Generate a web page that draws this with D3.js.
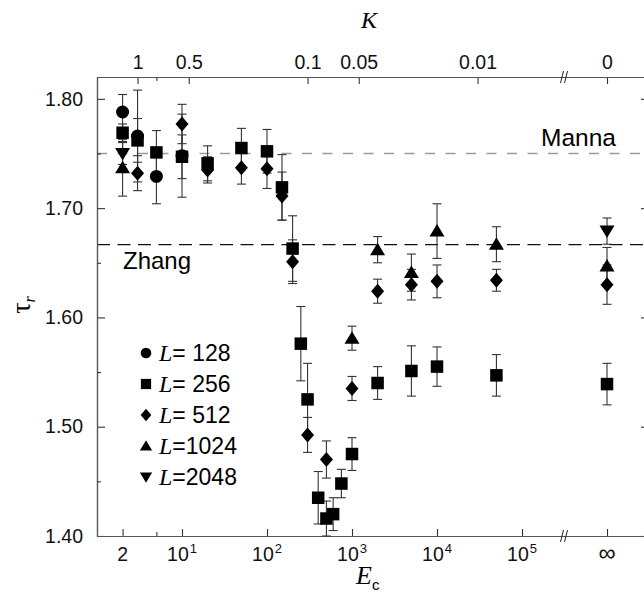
<!DOCTYPE html>
<html>
<head>
<meta charset="utf-8">
<script src="https://cdn.jsdelivr.net/npm/d3@7"></script>
<style>
body { margin: 0; background: #fff; }
svg { display: block; font-family: "Liberation Sans", Arial, sans-serif; }
</style>
</head>
<body>
<div id="chart"></div>
<script>
// tau_r against E_c for several lattice sizes L
const E128 = [2, 3, 5, 10];
const tau128 = [1.788, 1.766, 1.729, 1.748];
const err128 = [0.016, 0.042, 0.025, 0.038];

const E256 = [2, 3, 5, 10, 20, 50, 100, 150, 200, 250, 300, 400, 500, 600, 750, 1000, 2000, 5000, 10000, 50000, Infinity];
const tau256 = [1.769, 1.762, 1.751, 1.747, 1.741, 1.755, 1.752, 1.719, 1.663, 1.576, 1.525, 1.435, 1.416, 1.420, 1.448, 1.475, 1.540, 1.551, 1.555, 1.547, 1.539];
const err256 = [0.008, 0.020, 0.020, 0.020, 0.016, 0.018, 0.020, 0.030, 0.030, 0.034, 0.033, 0.024, 0.016, 0.015, 0.013, 0.015, 0.015, 0.023, 0.018, 0.019, 0.019];

const E512 = [3, 10, 20, 50, 100, 150, 200, 300, 500, 1000, 2000, 5000, 10000, 50000, Infinity];
const tau512 = [1.732, 1.777, 1.735, 1.737, 1.736, 1.711, 1.651, 1.4925, 1.470, 1.535, 1.624, 1.630, 1.633, 1.634, 1.630];
const err512 = [0.016, 0.018, 0.012, 0.015, 0.018, 0.022, 0.020, 0.016, 0.017, 0.011, 0.011, 0.014, 0.015, 0.010, 0.018];

const E1024 = [2, 1000, 2000, 5000, 10000, 50000, Infinity];
const tau1024 = [1.737, 1.581, 1.662, 1.641, 1.679, 1.667, 1.647];
const err1024 = [0.026, 0.011, 0.012, 0.017, 0.025, 0.016, 0.017];

const E2048 = [2, Infinity];
const tau2048 = [1.750, 1.679];
const err2048 = [0.010, 0.012];

const mannaTau = 1.75;
const zhangTau = 5 / 3;

const bottomTicks = [2, 10, 100, 1000, 10000, 100000, Infinity];
const bottomLabels = ["2", "10^1", "10^2", "10^3", "10^4", "10^5", "\u221e"];
const topTicks = [3, 12, 300, 1200, 30000, Infinity];
const topLabels = ["1", "0.5", "0.1", "0.05", "0.01", "0"];
const minorE = [5];
const yMajor = [1.40, 1.50, 1.60, 1.70, 1.80];
const yMinor = [1.45, 1.55, 1.65, 1.75];

// infinity sits one decade past 10^5, the break halfway between
const infE = 1e6;
const breakE = Math.pow(10, 5.5);

const width = 644, height = 599;
const margin = {top: 77, left: 97, right: 649, bottom: 536};

const svg = d3.select("#chart").append("svg")
    .attr("width", width)
    .attr("height", height);

const x = d3.scaleLog()
    .domain([1, Math.pow(10, 6.494)])
    .range([margin.left, margin.right]);
const y = d3.scaleLinear()
    .domain([1.40, 1.82])
    .range([margin.bottom, margin.top]);

const xPos = e => x(isFinite(e) ? e : infE);

// reference lines
svg.append("line")
    .attr("x1", margin.left).attr("x2", margin.right)
    .attr("y1", y(mannaTau)).attr("y2", y(mannaTau))
    .attr("stroke", "#9a9a9a").attr("stroke-width", 1.3)
    .attr("stroke-dasharray", "10,10.5");
svg.append("line")
    .attr("x1", margin.left).attr("x2", margin.right)
    .attr("y1", y(zhangTau)).attr("y2", y(zhangTau))
    .attr("stroke", "#111").attr("stroke-width", 1.3)
    .attr("stroke-dasharray", "13,7.5");

svg.append("text").attr("x", 541).attr("y", 146)
    .attr("font-size", 24.5).text("Manna");
svg.append("text").attr("x", 123).attr("y", 269)
    .attr("font-size", 24).text("Zhang");

// axes
svg.append("g").attr("transform", `translate(${margin.left},0)`)
    .call(d3.axisLeft(y).tickValues(yMajor).tickSize(-8).tickSizeOuter(0)
        .tickPadding(14).tickFormat(d3.format(".2f")));
svg.append("g").attr("transform", `translate(${margin.left},0)`)
    .call(d3.axisLeft(y).tickValues(yMinor).tickSize(-4).tickSizeOuter(0).tickFormat(""));
svg.append("g").attr("transform", `translate(${margin.right},0)`)
    .call(d3.axisRight(y).tickValues(yMajor).tickSize(-8).tickSizeOuter(0).tickFormat(""));

svg.append("g").attr("transform", `translate(0,${margin.bottom})`)
    .call(d3.axisBottom(x).tickValues(bottomTicks.map(e => isFinite(e) ? e : infE))
        .tickSize(-7).tickSizeOuter(0).tickPadding(11).tickFormat(""));
svg.append("g").attr("transform", `translate(0,${margin.bottom})`)
    .call(d3.axisBottom(x).tickValues(minorE).tickSize(-4).tickSizeOuter(0).tickFormat(""));

svg.append("g").attr("transform", `translate(0,${margin.top})`)
    .call(d3.axisTop(x).tickValues(topTicks.map(e => isFinite(e) ? e : infE))
        .tickSize(-7).tickSizeOuter(0).tickPadding(8)
        .tickFormat((d, i) => topLabels[i]));
svg.append("g").attr("transform", `translate(0,${margin.top})`)
    .call(d3.axisTop(x).tickValues(minorE).tickSize(-4).tickSizeOuter(0).tickFormat(""));

svg.selectAll(".domain").attr("stroke", "#555").attr("stroke-width", 1.2);
svg.selectAll(".tick line").attr("stroke", "#333").attr("stroke-width", 1.1);
svg.selectAll(".tick text").attr("font-size", 19.5).attr("fill", "#111")
    .attr("font-family", "Liberation Sans, Arial, sans-serif");

// bottom labels with superscripts
bottomTicks.forEach((e, i) => {
    let parts = bottomLabels[i].split("^");
    let t = svg.append("text")
        .attr("x", xPos(e))
        .attr("y", 561)
        .attr("text-anchor", "middle")
        .attr("font-size", parts[0] === "\u221e" ? 24 : 19.5)
        .attr("fill", "#111");
    t.append("tspan").text(parts[0]);
    if (parts.length > 1) {
        t.append("tspan").attr("font-size", 13).attr("dy", -8).attr("dx", 1).text(parts[1]);
    }
});

// axis break marks
[margin.top, margin.bottom].forEach(yy => {
    [-2.5, 1.5].forEach(off => {
        svg.append("line")
            .attr("x1", x(breakE) + off - 1.5).attr("y1", yy + 6)
            .attr("x2", x(breakE) + off + 1.5).attr("y2", yy - 6)
            .attr("stroke", "#222").attr("stroke-width", 1);
    });
});

// axis titles
let et = svg.append("text").attr("x", 356).attr("y", 584)
    .attr("font-family", "Liberation Serif, Times New Roman, serif");
et.append("tspan").attr("font-style", "italic").attr("font-size", 26).text("E");
et.append("tspan").attr("font-family", "Liberation Sans, Arial, sans-serif")
    .attr("font-size", 15).attr("dy", 6).text("c");

svg.append("text").attr("x", 361).attr("y", 28)
    .attr("font-family", "Liberation Serif, Times New Roman, serif")
    .attr("font-style", "italic").attr("font-size", 24).text("K");

let yt = svg.append("text")
    .attr("transform", "translate(30,305) rotate(-90)")
    .attr("text-anchor", "middle")
    .attr("font-family", "Liberation Serif, Times New Roman, serif");
yt.append("tspan").attr("font-size", 28).text("\u03c4");
yt.append("tspan").attr("font-size", 16).attr("font-style", "italic").attr("dy", 5).text("r");

// marker shapes
function shapePath(shape, s) {
    if (shape === "circle") return d3.symbol(d3.symbolCircle, Math.PI * 6.5 * 6.5 * s * s)();
    if (shape === "square") return d3.symbol(d3.symbolSquare, 12.5 * 12.5 * s * s)();
    if (shape === "diamond") return `M0,${-7.5 * s}L${6.5 * s},0L0,${7.5 * s}L${-6.5 * s},0Z`;
    if (shape === "up") return `M0,${-7 * s}L${7.5 * s},${5.5 * s}L${-7.5 * s},${5.5 * s}Z`;
    return `M0,${7 * s}L${7.5 * s},${-5.5 * s}L${-7.5 * s},${-5.5 * s}Z`;
}

const series = [
    {label: " 128", E: E128, tau: tau128, err: err128, shape: "circle"},
    {label: " 256", E: E256, tau: tau256, err: err256, shape: "square"},
    {label: " 512", E: E512, tau: tau512, err: err512, shape: "diamond"},
    {label: "1024", E: E1024, tau: tau1024, err: err1024, shape: "up"},
    {label: "2048", E: E2048, tau: tau2048, err: err2048, shape: "down"}
];

// error bars first
series.forEach(s => {
    let pts = s.E.map((e, i) => ({e: e, t: s.tau[i], d: s.err[i]}));
    let g = svg.append("g").attr("stroke", "#333").attr("stroke-width", 1.1);
    pts.forEach(p => {
        let cx = xPos(p.e);
        g.append("line").attr("x1", cx).attr("x2", cx)
            .attr("y1", y(p.t - p.d)).attr("y2", y(p.t + p.d));
        [p.t - p.d, p.t + p.d].forEach(v => {
            g.append("line").attr("x1", cx - 4.5).attr("x2", cx + 4.5)
                .attr("y1", y(v)).attr("y2", y(v));
        });
    });
});

series.forEach(s => {
    svg.append("g").selectAll("path")
        .data(s.E.map((e, i) => ({e: e, t: s.tau[i]})))
        .enter().append("path")
        .attr("d", shapePath(s.shape, 1))
        .attr("transform", d => `translate(${xPos(d.e)},${y(d.t)})`)
        .attr("fill", "#000");
});

// legend
series.forEach((s, i) => {
    let ly = 353 + i * 31;
    svg.append("path").attr("d", shapePath(s.shape, 0.82))
        .attr("transform", `translate(146,${ly})`).attr("fill", "#000");
    let t = svg.append("text").attr("x", 159).attr("y", ly + 8)
        .attr("font-size", 23).attr("xml:space", "preserve");
    t.append("tspan").attr("font-family", "Liberation Serif, Times New Roman, serif")
        .attr("font-style", "italic").attr("font-size", 24).text("L");
    t.append("tspan").text("=" + s.label);
});
</script>
</body>
</html>
